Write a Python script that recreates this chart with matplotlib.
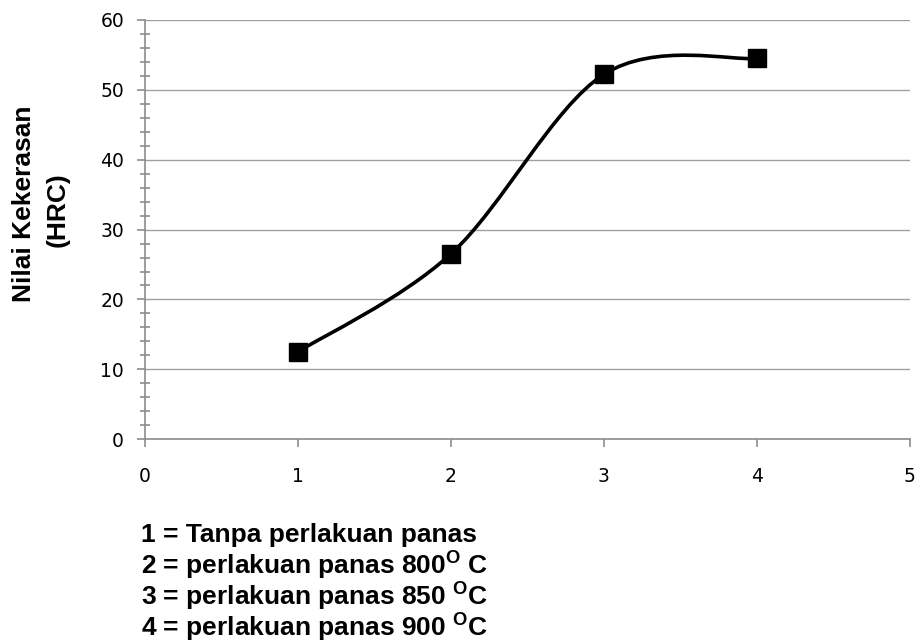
import numpy as np
import matplotlib
matplotlib.use('Agg')
from matplotlib import pyplot as plt
from matplotlib.path import Path
from matplotlib.patches import PathPatch
from matplotlib.ticker import MultipleLocator

plt.rcParams['mathtext.fontset'] = 'custom'
plt.rcParams['mathtext.rm'] = 'Liberation Sans:bold'
plt.rcParams['mathtext.it'] = 'Liberation Sans:bold'
plt.rcParams['mathtext.bf'] = 'Liberation Sans:bold'

# data
perlakuan = [1, 2, 3, 4]
kekerasan = [12.5, 26.5, 52.2, 54.5]
caption = [
    '1 = Tanpa perlakuan panas',
    r'2 = perlakuan panas 800$^{\rm O}$ C',
    r'3 = perlakuan panas 850 $^{\rm O}$C',
    r'4 = perlakuan panas 900 $^{\rm O}$C',
]

def smoothPath(xs, ys):
    # excel-like smoothed line (bezier through points)
    pts = np.column_stack([xs, ys]).astype(float)
    n = len(pts)
    verts = [pts[0]]
    codes = [Path.MOVETO]
    for i in range(n - 1):
        p0 = pts[max(i - 1, 0)]
        p1 = pts[i]
        p2 = pts[i + 1]
        p3 = pts[min(i + 2, n - 1)]
        c1 = p1 + (p2 - p0) / 6
        c2 = p2 - (p3 - p1) / 6
        verts += [c1, c2, p2]
        codes += [Path.CURVE4] * 3
    return Path(verts, codes)

fig = plt.figure(figsize=(9.17, 6.44), dpi=100)
ax = fig.add_axes([0.158, 0.318, 0.834, 0.651])

ax.add_patch(PathPatch(smoothPath(perlakuan, kekerasan), facecolor='none',
                       edgecolor='black', lw=2.6, zorder=3))
ax.plot(perlakuan, kekerasan, linestyle='none', marker='s', color='black',
        markersize=13, zorder=4)

ax.set_xlim(0, 5)
ax.set_ylim(0, 60)
ax.xaxis.set_major_locator(MultipleLocator(1))
ax.yaxis.set_major_locator(MultipleLocator(10))
ax.yaxis.set_minor_locator(MultipleLocator(2))
ax.grid(axis='y', which='major', color='#a0a0a0', lw=1.0)
ax.set_axisbelow(True)

for s in ['top', 'right']:
    ax.spines[s].set_visible(False)
for s in ['left', 'bottom']:
    ax.spines[s].set_color('#8c8c8c')
    ax.spines[s].set_linewidth(1.2)

ax.tick_params(axis='x', which='major', direction='out', length=6, width=1.2,
               color='#8c8c8c', pad=14, labelsize=13.5)
ax.tick_params(axis='y', which='major', direction='out', length=6, width=1.2,
               color='#8c8c8c', pad=9, labelsize=13.5)
ax.tick_params(axis='y', which='minor', direction='inout', length=7, width=1.2,
               color='#8c8c8c')

fig.text(24 / 917, 1 - 204 / 644, 'Nilai Kekerasan', rotation=90, ha='center',
         va='center', fontsize=19, fontweight='bold', family='Liberation Sans')
fig.text(58 / 917, 1 - 210 / 644, '(HRC)', rotation=90, ha='center',
         va='center', fontsize=19, fontweight='bold', family='Liberation Sans')

for i, line in enumerate(caption):
    fig.text(141 / 917, 1 - (535 + 31 * i) / 644, line, ha='left', va='center',
             fontsize=19, fontweight='bold', family='Liberation Sans')

fig.savefig('out.png', dpi=100)
